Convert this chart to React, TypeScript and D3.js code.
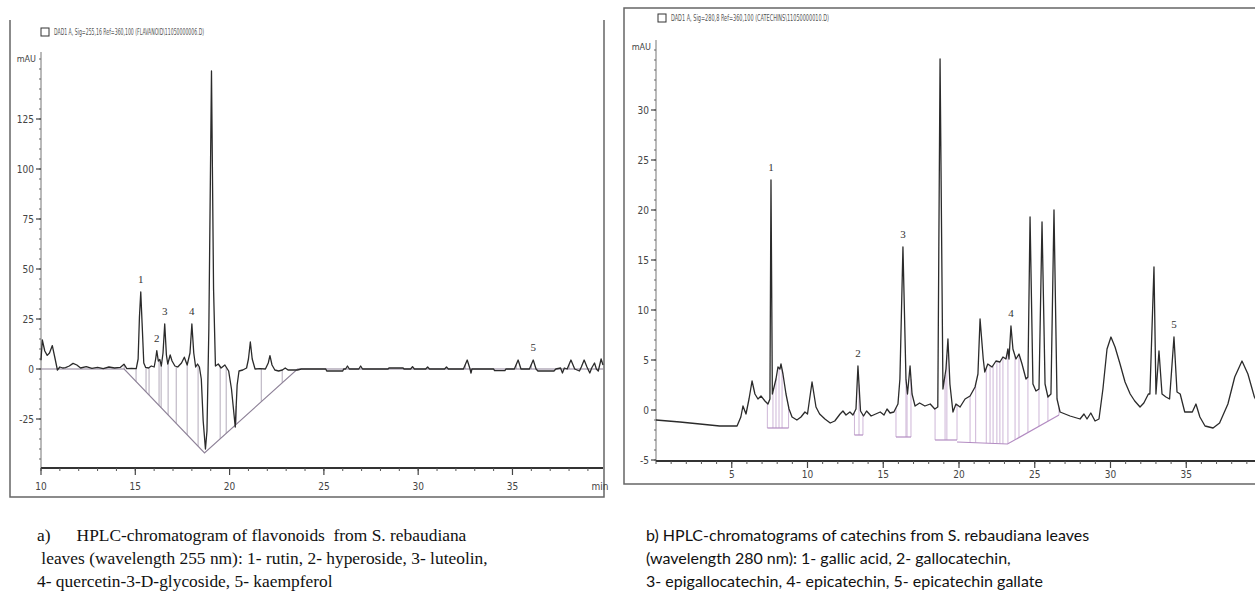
import * as d3 from 'd3'

type Pt = [number, number]

// ---- a) flavonoids, 255 nm (time in min, mAU) ----
const flavTrace: Pt[] = [
  [10.0, 4.4], [10.07, 14.5], [10.2, 9], [10.33, 6.8], [10.45, 8], [10.6, 11.7], [10.75, 5], [10.87, -0.5],
  [11.0, 1], [11.15, 0.5], [11.3, 0.7], [11.5, 1.5], [11.7, 2.8], [11.9, 2], [12.1, 0.5], [12.4, 1.2],
  [12.7, 0.3], [13.0, 0.8], [13.3, 0.2], [13.6, 1], [13.9, 0.5], [14.2, 0.8], [14.4, 2.4], [14.55, 0.2],
  [14.8, 0.3], [15.05, 0.2], [15.15, 5], [15.22, 26], [15.29, 38.5], [15.36, 23], [15.45, 3], [15.55, 0.8],
  [15.7, 0.5], [15.85, 1.5], [16.0, 1], [16.08, 5], [16.14, 9.2], [16.22, 4], [16.3, 4.8], [16.38, 1.5],
  [16.47, 8], [16.56, 22.5], [16.65, 7], [16.72, 2.5], [16.85, 7], [16.95, 4], [17.1, 1.5], [17.25, 1],
  [17.45, 3], [17.6, 5.9], [17.75, 2], [17.9, 8], [18.0, 22.5], [18.1, 8], [18.2, 1], [18.3, 2.5],
  [18.4, 1], [18.5, -5], [18.6, -26], [18.72, -40], [18.8, -31], [18.9, 20], [19.04, 149], [19.15, 40],
  [19.25, 1.5], [19.4, 2.5], [19.55, 0.5], [19.75, 2], [19.95, -1], [20.1, -10], [20.3, -29], [20.4, -8],
  [20.5, -1], [20.7, -0.5], [20.9, 0.5], [21.0, 5], [21.1, 13.5], [21.2, 5], [21.35, 0], [21.6, 0.2],
  [21.9, 0], [22.05, 3], [22.14, 6.7], [22.25, 2], [22.4, -0.5], [22.6, -1], [22.8, -0.5], [22.95, 0.5],
  [23.1, -0.5], [23.6, -0.5], [23.8, 0], [25.1, 0], [25.15, -1], [26.0, -1], [26.05, 0], [26.15, 0],
  [26.25, 1.5], [26.35, 0], [26.85, 0], [26.95, 1.5], [27.05, 0], [28.4, 0], [28.45, 0.5], [29.2, 0.5],
  [29.25, 0], [29.6, 0], [29.7, 1.2], [29.8, 0], [30.4, 0], [30.5, 1], [30.6, 0], [31.4, 0], [31.5, 1],
  [31.6, 0], [32.4, 0], [32.6, 4.5], [32.75, 0], [32.8, -2], [32.85, 0], [34.0, 0], [34.05, -0.8],
  [34.6, -0.8], [34.65, 0], [35.1, 0], [35.3, 4.5], [35.45, 0], [35.9, 0], [36.1, 4.5], [36.25, 0],
  [36.35, -1], [37.2, -1], [37.3, 0], [37.55, 0.5], [37.65, -2], [37.75, 0.5], [37.9, 0], [38.1, 4.5],
  [38.3, 0], [38.55, -1], [38.65, 1], [38.8, 4.5], [38.95, 1], [39.1, -2], [39.2, 0.5], [39.35, 3],
  [39.45, 0], [39.55, -1], [39.7, 5], [39.8, 2],
]
const flavBaselines: Pt[][] = [
  [[10, 0], [14.41, 0], [18.67, -42], [23.6, 0], [39.8, 0]],
]
const flavDrops = [14.41, 15.04, 15.57, 15.73, 16.26, 16.37, 16.74, 17.17, 17.75, 18.33, 19.5, 19.82, 20.35, 21.68, 22.79, 32.5, 32.8, 35.2, 36.0, 38.0]
const flavPeakTimes = [15.29, 16.14, 16.56, 18.0, 36.1]
const flavPeakNames = ['1', '2', '3', '4', '5']
const flavXTicks = [10, 15, 20, 25, 30, 35]
const flavYTicks = [-25, 0, 25, 50, 75, 100, 125]

// ---- b) catechins, 280 nm ----
const catTrace: Pt[] = [
  [0, -1.0], [1.58, -1.2], [2.9, -1.4], [4.2, -1.6], [5.35, -1.6], [5.6, -0.7], [5.74, 0.4], [5.94, -0.4],
  [6.14, 1.1], [6.34, 2.9], [6.53, 1.6], [6.73, 1.1], [6.93, 1.4], [7.19, 0.9], [7.39, 0.6], [7.52, 1.1],
  [7.59, 23], [7.68, 1.6], [7.92, 3.1], [8.05, 4.3], [8.18, 4.1], [8.25, 4.6], [8.38, 3.6], [8.58, 1.6],
  [8.78, 0.1], [8.98, -0.7], [9.3, -1.0], [9.57, -0.7], [9.83, -0.2], [10.0, -0.4], [10.3, 2.8], [10.56, 0.3],
  [10.8, -0.4], [11.15, -0.9], [11.5, -1.3], [11.8, -1.1], [12.15, -0.4], [12.34, -0.1], [12.54, -0.5],
  [12.8, -0.2], [13.0, -0.5], [13.2, 0.1], [13.33, 4.4], [13.5, -0.1], [13.7, -0.6], [13.9, -0.1],
  [14.2, -0.6], [14.5, -0.4], [14.8, -0.2], [15.05, -0.5], [15.25, 0.1], [15.45, -0.3], [15.7, -0.2],
  [15.97, 0.6], [16.1, 3.1], [16.3, 16.3], [16.5, 3.1], [16.6, 1.6], [16.77, 4.4], [16.9, 1.6], [17.1, 0.4],
  [17.4, 0.7], [17.75, 0.4], [18.1, 0.6], [18.4, 0.1], [18.6, 0.3], [18.75, 35.1], [18.94, 2.1], [19.14, 4.1],
  [19.27, 7.1], [19.4, 2.6], [19.6, -0.2], [19.8, 0.6], [20.07, 0.3], [20.4, 1.1], [20.73, 1.4], [21.06, 2.3],
  [21.25, 3.6], [21.39, 9.1], [21.6, 5.1], [21.7, 3.8], [21.9, 4.6], [22.18, 4.3], [22.44, 4.9], [22.7, 4.8],
  [22.9, 5.3], [23.1, 5.1], [23.23, 6.1], [23.3, 5.1], [23.43, 8.4], [23.56, 6.1], [23.76, 5.1], [23.96, 5.6],
  [24.16, 4.6], [24.42, 3.1], [24.55, 3.3], [24.69, 19.3], [24.88, 2.6], [25.08, 1.9], [25.28, 2.1],
  [25.48, 18.8], [25.68, 2.6], [25.87, 1.3], [26.07, 1.6], [26.27, 20.0], [26.47, 1.1], [26.67, -0.2],
  [27.33, -0.6], [27.99, -0.9], [28.25, -0.4], [28.45, -0.9], [28.7, -0.3], [28.98, -1.1], [29.24, -0.9],
  [29.5, 2.1], [29.77, 6.1], [30.03, 7.3], [30.3, 6.3], [30.63, 4.6], [30.96, 2.8], [31.3, 1.6], [31.6, 0.9],
  [31.95, 0.3], [32.2, 0.7], [32.5, 1.6], [32.6, 1.6], [32.87, 14.3], [33.0, 1.6], [33.2, 5.9], [33.4, 1.6],
  [33.66, 1.3], [33.9, 1.1], [34.19, 7.3], [34.39, 1.8], [34.6, 1.6], [34.9, -0.2], [35.4, -0.2], [35.64, 0.6],
  [35.9, -0.7], [36.24, -1.6], [36.77, -1.8], [37.2, -1.3], [37.75, 0.6], [38.2, 3.3], [38.68, 4.9],
  [39.07, 3.6], [39.5, 1.3], [39.9, 0.1],
]
const catBaselines: Pt[][] = [
  [[7.35, -1.8], [8.75, -1.8]],
  [[13.1, -2.5], [13.66, -2.5]],
  [[15.84, -2.7], [16.83, -2.7]],
  [[18.42, -3.0], [19.87, -3.0]],
  [[19.87, -3.2], [23.2, -3.4], [26.6, -0.5]],
]
const catDrops = [7.35, 7.72, 7.92, 8.12, 8.32, 8.75, 13.1, 13.4, 13.66, 15.84, 16.5, 16.57, 16.83, 18.42, 19.08, 19.2,
  19.87, 20.73, 21.1, 21.8, 22.05, 22.25, 22.5, 22.7, 22.9, 23.23, 23.7, 23.96, 24.55, 25.28, 25.87, 26.6]
const catPeakTimes = [7.59, 13.33, 16.3, 23.43, 34.19]
const catPeakNames = ['1', '2', '3', '4', '5']
const catXTicks = [5, 10, 15, 20, 25, 30, 35]
const catYTicks = [-5, 0, 5, 10, 15, 20, 25, 30]

const captionA = [
  'a)      HPLC-chromatogram of flavonoids  from S. rebaudiana',
  ' leaves (wavelength 255 nm): 1- rutin, 2- hyperoside, 3- luteolin,',
  '4- quercetin-3-D-glycoside, 5- kaempferol',
]
const captionB = [
  'b) HPLC-chromatograms of catechins from S. rebaudiana leaves',
  '(wavelength 280 nm): 1- gallic acid, 2- gallocatechin,',
  '3- epigallocatechin, 4- epicatechin, 5- epicatechin gallate',
]

const narrow = "'Liberation Sans Narrow', 'DejaVu Sans Condensed', sans-serif"

function interp(pts: Pt[], t: number) {
  for (let i = 0; i < pts.length - 1; i++) {
    const [t0, v0] = pts[i], [t1, v1] = pts[i + 1]
    if (t >= t0 && t <= t1) return v0 + ((t - t0) / (t1 - t0 || 1)) * (v1 - v0)
  }
  return pts[pts.length - 1][1]
}

function baseAt(segs: Pt[][], t: number) {
  const s = segs.find((g) => t >= g[0][0] - 1e-6 && t <= g[g.length - 1][0] + 1e-6) || segs[0]
  return interp(s, t)
}

function Panel({ cfg }: { cfg: any }) {
  const x = d3.scaleLinear().domain(cfg.xDomain).range(cfg.xRange)
  const y = d3.scaleLinear().domain(cfg.yDomain).range(cfg.yRange)
  const line = d3.line<Pt>().x((d) => x(d[0])).y((d) => y(d[1]))
  const axY = cfg.yRange[0]
  const axX = cfg.xRange[0]
  const xMinor = d3.range(Math.ceil(cfg.xDomain[0]), cfg.xDomain[1], 1)
  const yMinor = d3.range(cfg.yMinorStart, cfg.yDomain[1], cfg.yMinorStep)
  const xEnd = Math.min(cfg.xRange[1], 1255)
  return (
    <g>
      {/* frame */}
      <path d={cfg.frame} fill="none" stroke="#666" strokeWidth={1.5} />
      {/* header */}
      <rect x={cfg.header[0]} y={cfg.header[1] - 7} width={8} height={8} fill="none" stroke="#333" strokeWidth={1} />
      <text x={cfg.header[0] + 13} y={cfg.header[1]} fontSize={8} fontFamily={narrow} fill="#555"
        textLength={cfg.headerLen} lengthAdjust="spacingAndGlyphs">{cfg.title}</text>
      <text x={axX - 5} y={cfg.mauY} fontSize={9} fontFamily={narrow} fill="#444" textAnchor="end">mAU</text>

      {/* y axis */}
      <line x1={axX} x2={axX} y1={cfg.yRange[1]} y2={axY} stroke="#777" strokeWidth={1} />
      {yMinor.map((v: number) => (
        <line key={'ym' + v} x1={axX - 2} x2={axX} y1={y(v)} y2={y(v)} stroke="#666" strokeWidth={1} />
      ))}
      {cfg.yTicks.map((v: number) => (
        <g key={'yt' + v}>
          <line x1={axX - 5} x2={axX} y1={y(v)} y2={y(v)} stroke="#444" strokeWidth={1.2} />
          <text x={axX - 7} y={y(v) + 3.5} fontSize={10} fontFamily={narrow} fill="#444" textAnchor="end">{v}</text>
        </g>
      ))}

      {/* x axis */}
      <line x1={axX} x2={xEnd} y1={axY} y2={axY} stroke="#333" strokeWidth={2} />
      {xMinor.map((v: number) => (
        <line key={'xm' + v} x1={x(v)} x2={x(v)} y1={axY} y2={axY + 3} stroke="#555" strokeWidth={1} />
      ))}
      {cfg.xTicks.map((v: number) => (
        <g key={'xt' + v}>
          <line x1={x(v)} x2={x(v)} y1={axY} y2={axY + 7} stroke="#444" strokeWidth={1.2} />
          <text x={x(v)} y={cfg.xLabelY} fontSize={10} fontFamily={narrow} fill="#444" textAnchor="middle">{v}</text>
        </g>
      ))}
      {cfg.minLabel && (
        <text x={x(cfg.xDomain[1]) - 3} y={cfg.xLabelY} fontSize={10} fontFamily={narrow} fill="#444" textAnchor="middle">min</text>
      )}

      {/* integration baselines and drop lines */}
      {cfg.drops.map((t: number) => (
        <line key={'d' + t} x1={x(t)} x2={x(t)} y1={y(baseAt(cfg.baselines, t))} y2={y(interp(cfg.trace, t))}
          stroke={cfg.dropColor} strokeWidth={0.9} />
      ))}
      {cfg.baselines.map((s: Pt[], i: number) => (
        <path key={'b' + i} d={line(s) || ''} fill="none" stroke={cfg.baseColor} strokeWidth={1.2} />
      ))}

      {/* trace */}
      <path d={line(cfg.trace) || ''} fill="none" stroke="#2b2b2b" strokeWidth={1.3} strokeLinejoin="round" />

      {/* peak numbers */}
      {cfg.peakTimes.map((t: number, i: number) => (
        <text key={'p' + i} x={x(t)} y={y(interp(cfg.trace, t)) - 9} fontSize={11}
          fontFamily="'Liberation Serif', serif" fill="#333" textAnchor="middle">{cfg.peakNames[i]}</text>
      ))}
    </g>
  )
}

export default function App() {
  const left = {
    xDomain: [10, 39.8], xRange: [41, 603],
    yDomain: [-49.5, 158.5], yRange: [468, 52],
    yMinorStart: -45, yMinorStep: 5,
    xTicks: flavXTicks, yTicks: flavYTicks, xLabelY: 490, minLabel: true,
    trace: flavTrace, baselines: flavBaselines, drops: flavDrops,
    peakTimes: flavPeakTimes, peakNames: flavPeakNames,
    baseColor: '#8e8298', dropColor: '#aaa2b2',
    frame: 'M10,20 V497 H604 V20',
    header: [41, 35], headerLen: 150, mauY: 62,
    title: 'DAD1 A, Sig=255,16 Ref=360,100 (FLAVANOID\\11050000006.D)',
  }
  const right = {
    xDomain: [0, 40], xRange: [656, 1262],
    yDomain: [-5.1, 37], yRange: [461, 40],
    yMinorStart: -5, yMinorStep: 1,
    xTicks: catXTicks, yTicks: catYTicks, xLabelY: 478, minLabel: false,
    trace: catTrace, baselines: catBaselines, drops: catDrops,
    peakTimes: catPeakTimes, peakNames: catPeakNames,
    baseColor: '#b38cc2', dropColor: '#c8aed2',
    frame: 'M1260,8 H624 V484 H1260',
    header: [658, 21], headerLen: 158, mauY: 50,
    title: 'DAD1 A, Sig=280,8 Ref=360,100 (CATECHINS\\11050000010.D)',
  }
  return (
    <svg width={1255} height={594} style={{ position: 'absolute', left: 0, top: 0, background: '#fff' }}>
      <rect width={1255} height={594} fill="#fff" />
      <Panel cfg={left} />
      <Panel cfg={right} />
      {captionA.map((s, i) => (
        <text key={'ca' + i} x={37} y={541 + i * 23} fontSize={17.4} fontFamily="'Liberation Serif', 'Times New Roman', serif"
          fill="#111" style={{ whiteSpace: 'pre' }}>{s}</text>
      ))}
      {captionB.map((s, i) => (
        <text key={'cb' + i} x={646} y={541 + i * 23} fontSize={16} fontFamily="Lato, 'Open Sans', sans-serif"
          fill="#111">{s}</text>
      ))}
    </svg>
  )
}
